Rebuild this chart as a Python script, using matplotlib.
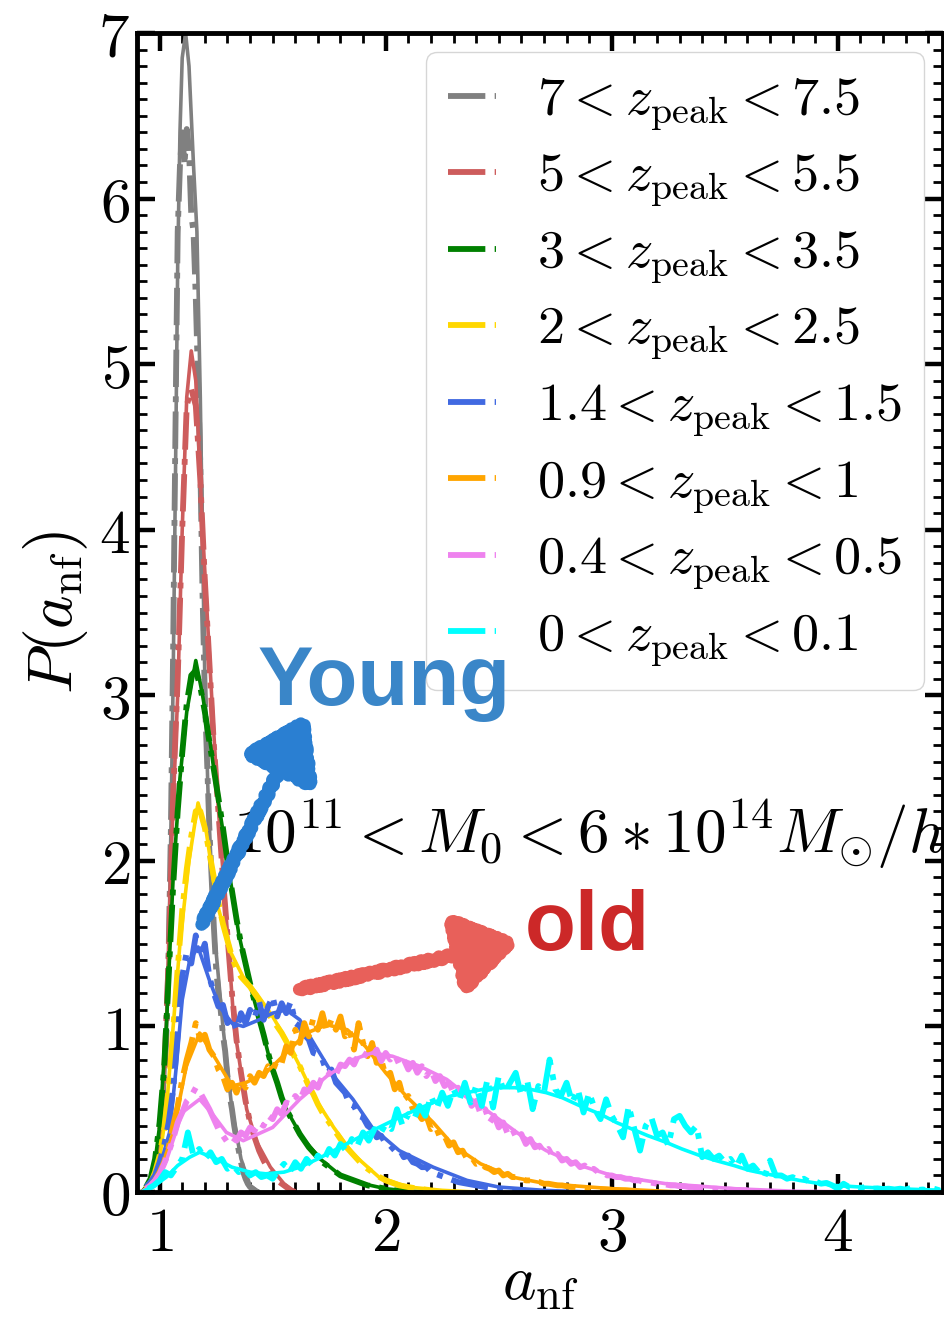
import numpy as np
import matplotlib
matplotlib.use("Agg")
import matplotlib.pyplot as plt
from matplotlib.ticker import MultipleLocator, FuncFormatter
from matplotlib.patches import FancyArrowPatch

plt.rcParams['mathtext.fontset'] = 'cm'
plt.rcParams['font.family'] = 'DejaVu Serif'

labels = [r'$7 < z_{\rm peak} < 7.5$', r'$5 < z_{\rm peak} < 5.5$',
          r'$3 < z_{\rm peak} < 3.5$', r'$2 < z_{\rm peak} < 2.5$',
          r'$1.4 < z_{\rm peak} < 1.5$', r'$0.9 < z_{\rm peak} < 1$',
          r'$0.4 < z_{\rm peak} < 0.5$', r'$0 < z_{\rm peak} < 0.1$']
colors = ['gray', 'indianred', 'green', 'gold', 'royalblue', 'orange', 'violet', 'cyan']

# smooth fits (x, y)
fit_gray_x = [0.93, 0.97, 1.0, 1.02, 1.04, 1.05, 1.06, 1.07, 1.08, 1.09, 1.10, 1.115, 1.13, 1.14, 1.15,
              1.165, 1.18, 1.19, 1.20, 1.215, 1.24, 1.28, 1.32, 1.36, 1.40, 1.44]
fit_gray_y = [0, 0.06, 0.25, 0.6, 1.4, 2.2, 3.1, 4.3, 5.6, 6.4, 6.85, 7.0, 6.8, 6.5, 6.2,
              5.8, 4.8, 3.9, 3.1, 2.37, 1.6, 1.0, 0.5, 0.2, 0.04, 0]
fit_red_x = [0.92, 0.97, 1.0, 1.03, 1.05, 1.08, 1.10, 1.12, 1.14, 1.16, 1.19, 1.23, 1.257, 1.30,
             1.33, 1.385, 1.43, 1.49, 1.55, 1.6]
fit_red_y = [0, 0.05, 0.3, 1.0, 2.0, 3.0, 4.0, 4.8, 5.08, 4.9, 4.0, 3.0, 2.37, 1.56,
             1.0, 0.5, 0.3, 0.15, 0.05, 0]
fit_green_x = [0.92, 0.97, 1.0, 1.03, 1.06, 1.09, 1.12, 1.16, 1.19, 1.22, 1.25, 1.30, 1.35, 1.40,
               1.45, 1.5, 1.56, 1.63, 1.71, 1.8, 1.9, 2.0, 2.1, 2.2]
fit_green_y = [0, 0.08, 0.4, 1.0, 1.9, 2.5, 2.9, 3.21, 3.0, 2.75, 2.45, 2.0, 1.56, 1.25,
               1.0, 0.73, 0.5, 0.33, 0.2, 0.1, 0.05, 0.02, 0.005, 0]
fit_yellow_x = [0.92, 0.97, 1.0, 1.03, 1.06, 1.09, 1.13, 1.17, 1.207, 1.251, 1.31, 1.369, 1.428,
                1.50, 1.56, 1.62, 1.69, 1.77, 1.855, 1.97, 2.1, 2.25, 2.4]
fit_yellow_y = [0, 0.06, 0.2, 0.5, 1.0, 1.5, 2.0, 2.35, 2.17, 1.76, 1.46, 1.30, 1.20,
                1.06, 0.92, 0.76, 0.56, 0.39, 0.23, 0.09, 0.03, 0.01, 0]
fit_blue_x = [0.92, 0.97, 1.0, 1.044, 1.074, 1.10, 1.133, 1.17, 1.22, 1.265, 1.32, 1.37, 1.44,
              1.50, 1.56, 1.62, 1.69, 1.77, 1.855, 1.94, 2.06, 2.21, 2.36, 2.5, 2.7, 2.9]
fit_blue_y = [0, 0.04, 0.15, 0.36, 0.76, 1.16, 1.40, 1.48, 1.28, 1.12, 1.02, 1.0, 1.04,
              1.08, 1.10, 1.04, 0.88, 0.70, 0.56, 0.39, 0.25, 0.15, 0.07, 0.03, 0.01, 0]
fit_orange_x = [0.92, 0.96, 1.0, 1.06, 1.118, 1.177, 1.25, 1.32, 1.38, 1.47, 1.56, 1.65, 1.74,
                1.83, 1.91, 2.0, 2.09, 2.21, 2.3, 2.42, 2.56, 2.71, 3.0, 3.3]
fit_orange_y = [0, 0.04, 0.11, 0.36, 0.76, 0.96, 0.80, 0.64, 0.66, 0.72, 0.84, 0.96, 1.01,
                0.98, 0.88, 0.72, 0.58, 0.42, 0.28, 0.17, 0.09, 0.05, 0.02, 0]
fit_violet_x = [0.92, 0.97, 1.03, 1.10, 1.177, 1.24, 1.295, 1.37, 1.50, 1.62, 1.74, 1.855, 1.94,
                2.03, 2.15, 2.27, 2.39, 2.5, 2.6, 2.71, 2.86, 3.0, 3.24, 3.54, 3.8, 4.1]
fit_violet_y = [0, 0.05, 0.19, 0.48, 0.56, 0.46, 0.36, 0.31, 0.39, 0.56, 0.70, 0.80, 0.84,
                0.82, 0.76, 0.68, 0.55, 0.44, 0.34, 0.25, 0.16, 0.1, 0.05, 0.02, 0.005, 0]
fit_cyan_x = [0.92, 0.95, 1.0, 1.03, 1.08, 1.133, 1.177, 1.25, 1.32, 1.40, 1.47, 1.55, 1.62, 1.70,
              1.77, 1.84, 1.91, 1.97, 2.06, 2.14, 2.21, 2.29, 2.36, 2.43, 2.5, 2.57, 2.64, 2.71,
              2.78, 2.86, 2.95, 3.02, 3.09, 3.16, 3.24, 3.31, 3.39, 3.46, 3.54, 3.61, 3.68, 3.76,
              3.83, 3.9, 3.98, 4.1, 4.25, 4.47]
fit_cyan_y = [0, 0.02, 0.06, 0.09, 0.16, 0.21, 0.24, 0.2, 0.15, 0.12, 0.11, 0.12, 0.15, 0.2,
              0.25, 0.3, 0.35, 0.39, 0.45, 0.5, 0.54, 0.58, 0.60, 0.62, 0.63, 0.63, 0.62, 0.6,
              0.57, 0.52, 0.47, 0.42, 0.38, 0.34, 0.30, 0.26, 0.22, 0.19, 0.16, 0.13, 0.11, 0.09,
              0.07, 0.055, 0.04, 0.03, 0.02, 0.01]

# histograms: first bin, bin step, values
hist_gray = (0.95, 0.01, [0.02, 0.04, 0.07, 0.12, 0.2, 0.3, 0.45, 0.65, 0.95, 1.45, 2.2, 3.3, 4.6,
                          5.8, 6.2, 6.4, 6.2, 6.42, 6.3, 5.9, 5.8, 5.4, 4.9, 4.4, 3.6, 3.0, 2.6,
                          2.2, 1.9, 1.6, 1.35, 1.2, 1.1, 0.95, 0.85, 0.7, 0.58, 0.5, 0.4, 0.32,
                          0.25, 0.18, 0.12, 0.08, 0.05, 0.03, 0.02, 0.01, 0, 0, 0])
hist_red = (0.94, 0.02, [0.02, 0.06, 0.15, 0.32, 0.7, 1.4, 2.4, 3.1, 4.0, 4.75, 4.85, 4.75, 4.3,
                         3.7, 3.2, 2.7, 2.3, 1.9, 1.55, 1.2, 0.92, 0.72, 0.55, 0.42, 0.33, 0.25,
                         0.19, 0.14, 0.1, 0.07, 0.05, 0.03, 0.01, 0])
hist_green = (0.94, 0.02, [0.03, 0.08, 0.2, 0.42, 0.75, 1.3, 1.85, 2.3, 2.65, 2.95, 3.12, 3.15,
                           3.05, 2.9, 2.72, 2.55, 2.38, 2.2, 2.0, 1.82, 1.65, 1.5, 1.38, 1.26,
                           1.15, 1.05, 0.95, 0.84, 0.74, 0.66, 0.57, 0.5, 0.45, 0.4, 0.35, 0.31,
                           0.27, 0.24, 0.21, 0.18, 0.16, 0.14, 0.12, 0.1, 0.09, 0.08, 0.07, 0.06,
                           0.05, 0.04, 0.035, 0.03, 0.025, 0.02, 0.015, 0.01, 0.008, 0.005, 0.003])
hist_yellow = (0.94, 0.02, [0.02, 0.05, 0.12, 0.22, 0.38, 0.62, 0.98, 1.35, 1.7, 1.95, 2.15, 2.3,
                            2.3, 2.2, 2.05, 1.9, 1.75, 1.62, 1.52, 1.42, 1.35, 1.3, 1.27, 1.24,
                            1.2, 1.16, 1.12, 1.08, 1.04, 1.0, 0.96, 0.91, 0.86, 0.81, 0.76, 0.7,
                            0.64, 0.59, 0.53, 0.48, 0.44, 0.4, 0.36, 0.32, 0.28, 0.25, 0.22, 0.19,
                            0.16, 0.14, 0.12, 0.1, 0.085, 0.07, 0.06, 0.05, 0.04, 0.035, 0.03,
                            0.025, 0.02, 0.017, 0.014, 0.011])
hist_blue = (0.94, 0.02, [0.03, 0.06, 0.1, 0.18, 0.28, 0.42, 0.62, 0.95, 1.3, 1.45, 1.38, 1.55,
                          1.42, 1.5, 1.3, 1.2, 1.12, 1.13, 1.02, 1.05, 0.98, 1.08, 1.02, 1.1,
                          1.05, 1.15, 1.04, 1.12, 1.18, 1.06, 1.14, 1.08, 1.15, 1.02, 1.0, 0.95,
                          0.92, 0.84, 0.83, 0.8, 0.72, 0.74, 0.66, 0.63, 0.6, 0.53, 0.52, 0.46,
                          0.45, 0.4, 0.38, 0.33, 0.34, 0.29, 0.28, 0.25, 0.26, 0.21, 0.22, 0.18,
                          0.17, 0.15, 0.15, 0.12, 0.11, 0.1, 0.09, 0.08, 0.07, 0.06, 0.055, 0.05,
                          0.045, 0.04, 0.035, 0.03, 0.026, 0.022, 0.02, 0.017, 0.015, 0.013,
                          0.011, 0.01, 0.008])
hist_orange = (0.94, 0.02, [0.02, 0.04, 0.07, 0.12, 0.18, 0.27, 0.4, 0.52, 0.68, 0.8, 0.9, 1.02,
                            0.92, 0.95, 0.86, 0.82, 0.74, 0.7, 0.62, 0.66, 0.6, 0.67, 0.63, 0.7,
                            0.66, 0.72, 0.7, 0.76, 0.73, 0.8, 0.78, 0.88, 0.84, 0.98, 0.9, 1.02,
                            0.94, 1.05, 0.98, 1.08, 0.97, 1.04, 0.98, 1.06, 0.94, 0.98, 0.86,
                            1.02, 0.9, 0.82, 0.9, 0.78, 0.8, 0.7, 0.72, 0.62, 0.66, 0.56, 0.58,
                            0.5, 0.48, 0.44, 0.46, 0.38, 0.4, 0.33, 0.34, 0.28, 0.3, 0.24, 0.25,
                            0.2, 0.21, 0.17, 0.18, 0.15, 0.14, 0.12, 0.13, 0.1, 0.11, 0.09, 0.09,
                            0.08, 0.07, 0.07, 0.06, 0.06, 0.05, 0.05, 0.045, 0.04, 0.04, 0.035,
                            0.03, 0.03, 0.025, 0.025, 0.02, 0.02, 0.018, 0.016, 0.015, 0.013,
                            0.012, 0.01, 0.01, 0.008, 0.007])
hist_violet = (0.94, 0.02, [0.02, 0.04, 0.07, 0.11, 0.17, 0.24, 0.32, 0.42, 0.48, 0.55, 0.58,
                            0.63, 0.6, 0.55, 0.5, 0.44, 0.38, 0.34, 0.3, 0.33, 0.31, 0.36, 0.34,
                            0.39, 0.37, 0.42, 0.4, 0.46, 0.44, 0.5, 0.47, 0.54, 0.53, 0.58, 0.55,
                            0.62, 0.61, 0.66, 0.63, 0.7, 0.69, 0.74, 0.71, 0.77, 0.76, 0.8, 0.77,
                            0.83, 0.81, 0.85, 0.82, 0.86, 0.79, 0.84, 0.8, 0.83, 0.77, 0.8, 0.74,
                            0.78, 0.72, 0.76, 0.7, 0.74, 0.67, 0.7, 0.64, 0.66, 0.6, 0.63, 0.56,
                            0.6, 0.52, 0.55, 0.47, 0.5, 0.42, 0.46, 0.39, 0.42, 0.35, 0.38, 0.32,
                            0.35, 0.29, 0.32, 0.27, 0.28, 0.24, 0.26, 0.21, 0.23, 0.19, 0.2, 0.17,
                            0.18, 0.15, 0.16, 0.13, 0.14, 0.12, 0.12, 0.1, 0.1, 0.09, 0.09, 0.08,
                            0.08, 0.07, 0.07, 0.06, 0.06, 0.055, 0.05, 0.05, 0.045, 0.04, 0.04,
                            0.035, 0.035, 0.03, 0.03, 0.027, 0.025, 0.022, 0.02, 0.02, 0.018,
                            0.016, 0.015, 0.013, 0.012, 0.01, 0.01])
hist_cyan = (0.95, 0.025, [0.02, 0.04, 0.07, 0.12, 0.1, 0.15, 0.2, 0.36, 0.22, 0.26, 0.2, 0.24,
                           0.18, 0.2, 0.14, 0.16, 0.12, 0.14, 0.1, 0.12, 0.09, 0.1, 0.08, 0.13,
                           0.17, 0.12, 0.18, 0.14, 0.2, 0.16, 0.22, 0.19, 0.26, 0.22, 0.29, 0.25,
                           0.32, 0.28, 0.36, 0.31, 0.38, 0.35, 0.41, 0.38, 0.5, 0.4, 0.47, 0.44,
                           0.52, 0.46, 0.58, 0.5, 0.6, 0.52, 0.62, 0.55, 0.66, 0.54, 0.64, 0.52,
                           0.68, 0.51, 0.7, 0.6, 0.66, 0.72, 0.58, 0.68, 0.5, 0.64, 0.6, 0.8,
                           0.62, 0.58, 0.66, 0.54, 0.62, 0.48, 0.6, 0.5, 0.44, 0.56, 0.46, 0.4,
                           0.33, 0.52, 0.38, 0.25, 0.4, 0.45, 0.34, 0.36, 0.28, 0.44, 0.46, 0.4,
                           0.36, 0.4, 0.21, 0.24, 0.2, 0.22, 0.18, 0.2, 0.15, 0.22, 0.14, 0.16,
                           0.12, 0.09, 0.19, 0.1, 0.1, 0.08, 0.09, 0.07, 0.08, 0.06, 0.065, 0.05,
                           0.055, 0.04, 0.02, 0.05, 0.03, 0.035, 0.025, 0.03, 0.02, 0.022, 0.018,
                           0.02, 0.015, 0.02, 0.015, 0.025, 0.012, 0.015, 0.01, 0.02, 0.01])

fits = [(fit_gray_x, fit_gray_y), (fit_red_x, fit_red_y), (fit_green_x, fit_green_y),
        (fit_yellow_x, fit_yellow_y), (fit_blue_x, fit_blue_y), (fit_orange_x, fit_orange_y),
        (fit_violet_x, fit_violet_y), (fit_cyan_x, fit_cyan_y)]
hists = [hist_gray, hist_red, hist_green, hist_yellow, hist_blue, hist_orange, hist_violet, hist_cyan]

fig = plt.figure(figsize=(9.44, 13.17), dpi=100)
ax = fig.add_axes([137 / 944, 125 / 1317, 806 / 944, 1159 / 1317])

for (fx, fy), (x0, step, vals), c, lab in zip(fits, hists, colors, labels):
    hx = x0 + step * np.arange(len(vals))
    ax.plot(hx, vals, '-.', color=c, lw=4.2, label=lab)
    ax.plot(fx, fy, '-', color=c, lw=2.6)

ax.set_xlim(0.9, 4.465)
ax.set_ylim(0, 7)
ax.xaxis.set_major_locator(MultipleLocator(1))
ax.xaxis.set_minor_locator(MultipleLocator(0.1))
ax.yaxis.set_major_locator(MultipleLocator(1))
ax.yaxis.set_minor_locator(MultipleLocator(0.1))
fmt = FuncFormatter(lambda v, p: r'$%d$' % round(v))
ax.xaxis.set_major_formatter(fmt)
ax.yaxis.set_major_formatter(fmt)
ax.tick_params(which='both', direction='in', top=True, right=True)
ax.tick_params(which='major', length=13, width=3.2, labelsize=44)
ax.tick_params(axis='y', which='major', pad=5)
ax.tick_params(axis='x', which='major', pad=9)
ax.tick_params(which='minor', length=7, width=2)
for s in ax.spines.values():
    s.set_linewidth(3.5)

ax.set_xlabel(r'$a_{\rm nf}$', fontsize=46, labelpad=-10)
ax.set_ylabel(r'$P(a_{\rm nf})$', fontsize=46, labelpad=6)

leg = ax.legend(loc='upper right', fontsize=39, handlelength=0.9, handletextpad=0.75,
                labelspacing=0.32, borderpad=0.4, borderaxespad=0.35, framealpha=0.8)
leg.set_zorder(5)

ax.text(1.323, 2.05, r'$10^{11} < M_0 < 6*10^{14}M_{\odot}/h$', fontsize=45.5,
        va='baseline', zorder=4)

for tail, tip, col in [((1.18, 1.60), (1.66, 2.90), '#2a7fd2'), ((1.605, 1.22), (2.60, 1.52), '#e8605a')]:
    arr = FancyArrowPatch(tail, tip, arrowstyle='-|>,head_length=36,head_width=24',
                          mutation_scale=1, color=col, lw=9, zorder=5)
    arr.set_sketch_params(scale=2, length=8, randomness=4)
    ax.add_patch(arr)

ax.text(1.434, 2.94, 'Young', fontsize=60, fontweight='bold', family='Liberation Sans',
        color='#3a86c8', va='baseline', zorder=6)
ax.text(2.615, 1.46, 'old', fontsize=60, fontweight='bold', family='Liberation Sans',
        color='#cc2828', va='baseline', zorder=6)

fig.savefig('out.png', dpi=100)
